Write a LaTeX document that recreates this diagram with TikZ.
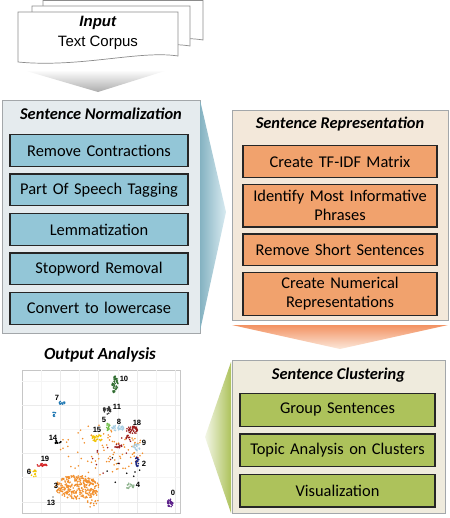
\documentclass[tikz,border=0pt]{standalone}
\usepackage{fontspec}
\setmainfont{Carlito}
\newfontfamily\docfont{Liberation Sans}
\usetikzlibrary{positioning}
\definecolor{normblue}{HTML}{93C6D7}
\definecolor{normback}{HTML}{E5EBEE}
\definecolor{reporange}{HTML}{F1A26D}
\definecolor{repback}{HTML}{F3E8DA}
\definecolor{clusgreen}{HTML}{ADC25B}
\definecolor{clusback}{HTML}{EFEBDD}
\definecolor{framegray}{HTML}{A3A7AA}
\definecolor{pagegray}{HTML}{8C8C8C}
% cluster colours
\definecolor{cA}{HTML}{F28E2B}
\definecolor{cB}{HTML}{2E6B2E}
\definecolor{cC}{HTML}{1F78B4}
\definecolor{cD}{HTML}{333333}
\definecolor{cE}{HTML}{6DBE45}
\definecolor{cF}{HTML}{A6CEE3}
\definecolor{cG}{HTML}{9B1B1B}
\definecolor{cH}{HTML}{F2C400}
\definecolor{cI}{HTML}{D62728}
\definecolor{cJ}{HTML}{1A237E}
\definecolor{cK}{HTML}{8FB58F}
\definecolor{cL}{HTML}{5B1F8A}
\tikzset{
  panel/.style={draw=framegray, line width=.8pt, inner sep=0pt},
  ptitle/.style={font=\fontsize{14}{16}\selectfont\bfseries\itshape},
  stepbox/.style={draw=black!85, line width=1.1pt, align=center, font=\fontsize{14}{16.5}\selectfont, inner xsep=2pt, inner ysep=4pt, minimum height=.95cm},
  nbox/.style={stepbox, fill=normblue, text width=5.2cm},
  rbox/.style={stepbox, fill=reporange, text width=5.68cm},
  cbox/.style={stepbox, fill=clusgreen, text width=5.71cm, minimum height=.98cm},
  page/.style={draw=pagegray, line width=.6pt, fill=white},
  clab/.style={font=\docfont\bfseries\fontsize{6.5}{7}\selectfont, inner sep=0pt},
}
\begin{document}
\begin{tikzpicture}[x=0.03cm, y=-0.03cm]
    \useasboundingbox (0,0) rectangle (450,518);

    % input document stack
    \draw[page] (43,0.5) -- (203,0.5) -- (203,40) .. controls (170,34) and (110,50) .. (43,43) -- cycle;
    \draw[page] (32,6) -- (190,6) -- (190,46) .. controls (155,40) and (100,56) .. (32,49) -- cycle;
    \draw[page] (18,12) -- (178,12) -- (178,56) .. controls (140,50) and (80,68) .. (18,62) -- cycle;
    \node[font=\docfont\fontsize{12.8}{17}\selectfont, align=center] (input) at (98,33) {\textbf{\textit{Input}}\\Text Corpus};
    \shade[top color=white, bottom color=gray!65] (23,70) -- (168,70) -- (98,92) -- cycle;

    % sentence normalization
    \node[panel, fill=normback, minimum width=5.94cm, minimum height=6.99cm] (norm) at (101,216.5) {};
    \node[ptitle] (normtitle) at (101,114) {Sentence Normalization};
    \node[nbox, anchor=north] (contr) at (99,134) {Remove Contractions};
    \node[nbox, below=0.195cm of contr] (postag) {Part Of Speech Tagging};
    \node[nbox, below=0.195cm of postag] (lemma) {Lemmatization};
    \node[nbox, below=0.195cm of lemma] (stopw) {Stopword Removal};
    \node[nbox, below=0.195cm of stopw] (lower) {Convert to lowercase};
    \shade[left color=normblue!90!black, right color=normblue!35] (200,100) -- (226,212) -- (200,331) -- cycle;

    % sentence representation
    \node[panel, fill=repback, minimum width=6.48cm, minimum height=6.3cm] (rep) at (340,215) {};
    \node[ptitle] (reptitle) at (340,124) {Sentence Representation};
    \node[rbox, anchor=north] (tfidf) at (340,145) {Create TF-IDF Matrix};
    \node[rbox, below=0.17cm of tfidf, minimum height=1.28cm] (inform) {Identify Most Informative\\Phrases};
    \node[rbox, below=0.17cm of inform] (short) {Remove Short Sentences};
    \node[rbox, below=0.17cm of short, minimum height=1.26cm] (numrep) {Create Numerical\\Representations};
    \shade[top color=reporange!90!red, bottom color=reporange!25] (232,325) -- (448,325) -- (340,349) -- cycle;

    % sentence clustering
    \node[panel, fill=clusback, minimum width=6.39cm, minimum height=4.59cm] (clus) at (338.5,436.5) {};
    \node[ptitle] (clustitle) at (338.5,375) {Sentence Clustering};
    \node[cbox, anchor=north] (group) at (337.5,393) {Group Sentences};
    \node[cbox, below=0.19cm of group] (topic) {Topic Analysis on Clusters};
    \node[cbox, below=0.19cm of topic] (visual) {Visualization};
    \shade[right color=clusgreen, left color=clusgreen!15] (231,362) -- (231,513) -- (205,437) -- cycle;

    % output analysis
    \node[font=\fontsize{14.5}{16}\selectfont\bfseries\itshape] (outtitle) at (100,355) {Output Analysis};
    \draw[gray!45, fill=white, line width=.4pt] (22,370) rectangle (180,513);
    \foreach \gx in {41,79,118,156} \draw[gray!8] (\gx,370) -- (\gx,513);
    \foreach \gx in {60,98,137,175} \draw[gray!16] (\gx,370) -- (\gx,513);
    \foreach \gy in {381,429,477} \draw[gray!8] (22,\gy) -- (180,\gy);
    \foreach \gy in {405,453,502} \draw[gray!16] (22,\gy) -- (180,\gy);
    \pgfmathsetseed{17}
    \foreach \cx/\cy/\rx/\ry/\n/\col in {
        100/450/45/25/90/cA, 77/487/22/12/300/cA, 92/500/6/8/20/cA,
        115/383/3/7/40/cB, 114/392/1/3/6/cB,
        61/403/4/2/12/cC, 54/413/1.5/4/8/cC,
        107/410/4/4/30/cD, 108/427/2/4/15/cE, 118/428/6/3/30/cF,
        132/430/6/4/40/cG, 118/446/4/2/15/cG, 128/438/2/3/10/cG,
        97/438/5/4/30/cH, 58/442/3/2/15/black, 137/447/4/4/20/cF,
        42/465/6/1.5/20/cI, 34/472/4/5/12/cH, 137/462/2/5/20/cJ,
        130/486/4/3/20/cK, 170/503/3/4/30/cL,
        110/455/30/22/12/cG, 120/470/20/15/8/black}
      \foreach \i in {1,...,\n}{
        \pgfmathsetmacro\ra{sqrt(rnd)}
        \pgfmathsetmacro\ang{360*rnd}
        \fill[\col] ({\cx+\rx*\ra*cos(\ang)},{\cy+\ry*\ra*sin(\ang)}) circle (.75pt);
      }
    \fill[gray] (53,497) circle (.8pt);
    \foreach \lx/\ly/\txt in {124/379/10, 57/398/7, 117/407/11, 104/420/5, 119/422/8,
        137/423/18, 97/430/15, 53/438/14, 144/443/9, 45/459/19, 29/472/6,
        144/464/2, 56/486/3, 51/503/13, 138/485/4, 173/493/0}
      \node[clab] (lab\txt) at (\lx,\ly) {\txt};
  \end{tikzpicture}
\end{document}
